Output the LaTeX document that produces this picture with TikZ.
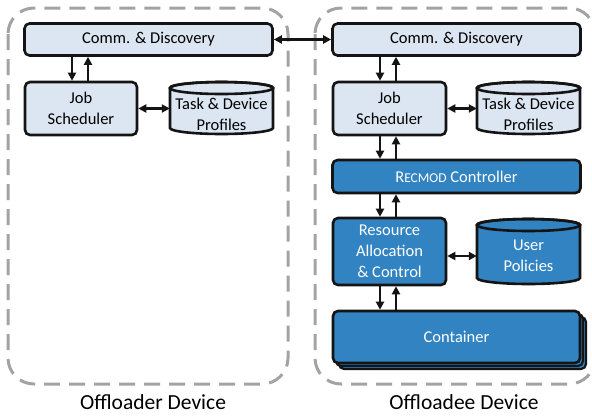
\documentclass[tikz,border=0pt]{standalone}
\usepackage{fontspec}
\setmainfont{Carlito}
\usetikzlibrary{arrows.meta}
\definecolor{lightbox}{HTML}{DCE6F2}
\definecolor{darkbox}{HTML}{3283C2}
\definecolor{edge}{HTML}{141414}
\definecolor{dashgray}{HTML}{A3A3A3}
\newcommand{\smc}[1]{{\fontsize{13.5}{16}\selectfont #1}}
\begin{document}
\begin{tikzpicture}[x=1pt,y=-1pt,
  box/.style={draw=edge, line width=2.6pt, rounded corners=5pt, inner sep=0pt, align=center, font=\fontsize{16.5}{21}\selectfont},
  lbox/.style={box, fill=lightbox, text=black},
  dbox/.style={box, fill=darkbox, text=white},
  arr/.style={line width=2.4pt, draw=edge, -{Triangle[length=8pt,width=8pt]}},
  darr/.style={line width=2.4pt, draw=edge, {Triangle[length=8pt,width=8pt]}-{Triangle[length=8pt,width=8pt]}},
  device/.style={draw=dashgray, line width=3pt, dash pattern=on 16pt off 9pt, rounded corners=26pt},
  lbl/.style={font=\fontsize{21.5}{26}\selectfont, inner sep=0pt},
  cyltext/.style={inner sep=0pt, minimum width=103pt, minimum height=52pt, align=center, font=\fontsize{16.5}{21}\selectfont}
]
\useasboundingbox (0,0) rectangle (592,418);
% device frames
\draw[device] (8,8) rectangle (288,384);
\draw[device] (315,8) rectangle (595,384);
\node[lbl] (ldev) at (153,402) {Offloader Device};
\node[lbl] (rdev) at (464,402) {Offloadee Device};

% left side
\node[lbox, minimum width=248pt, minimum height=32pt] (comm1) at (148.5,39.5) {Comm. \& Discovery};
\node[lbox, minimum width=112pt, minimum height=53pt] (job1) at (81,108.5) {Job\\Scheduler};
% right side
\node[lbox, minimum width=248pt, minimum height=32pt] (comm2) at (456.5,39.5) {Comm. \& Discovery};
\node[lbox, minimum width=113pt, minimum height=53pt] (job2) at (389.5,108.5) {Job\\Scheduler};
\node[dbox, minimum width=248pt, minimum height=33pt] (ctrl) at (456.5,176.5) {R\smc{ECMOD} Controller};
\node[dbox, minimum width=113pt, minimum height=67pt] (res) at (389.5,251.5) {Resource\\Allocation\\\& Control};
% container stack
\foreach \d in {6,3}{
  \draw[draw=edge, fill=darkbox, line width=2.2pt, rounded corners=5pt] (333+\d,311+\d) rectangle (580+\d,363+\d);
}
\node[dbox, minimum width=247pt, minimum height=52pt] (cont) at (456.5,337) {Container};

% cylinders
\newcommand{\cyl}[6]{% name, x1, x2, yt, yb, fill
  \path[draw=edge, line width=2.6pt, fill=#6]
    (#2,#4+6) -- (#2,#5-6) arc[start angle=180,end angle=0,x radius={(#3-#2)/2},y radius=6]
    -- (#3,#4+6) arc[start angle=0,end angle=-180,x radius={(#3-#2)/2},y radius=6] -- cycle;
  \draw[draw=edge, line width=2.6pt] ({(#2+#3)/2},#4+6) ellipse[x radius={(#3-#2)/2},y radius=6];
}
\cyl{p1}{170}{273}{82}{134}{lightbox}
\node[cyltext] (prof1) at (221.5,114) {Task \& Device\\Profiles};
\cyl{p2}{477}{580}{82}{134}{lightbox}
\node[cyltext] (prof2) at (528.5,114) {Task \& Device\\Profiles};
\cyl{p3}{477}{580}{219}{284}{darkbox}
\node[cyltext, text=white] (pol) at (528.5,256) {User\\Policies};

% arrows
\draw[darr] (comm1.east) -- (comm2.west);
\draw[arr] ([xshift=-9pt]job1.north |- comm1.south) -- ([xshift=-9pt]job1.north);
\draw[arr] ([xshift=7pt]job1.north) -- ([xshift=7pt]job1.north |- comm1.south);
\draw[darr] (job1.east) -- (job1.east -| prof1.west);

\draw[arr] ([xshift=-9.5pt]job2.north |- comm2.south) -- ([xshift=-9.5pt]job2.north);
\draw[arr] ([xshift=6.5pt]job2.north) -- ([xshift=6.5pt]job2.north |- comm2.south);
\draw[darr] (job2.east) -- (job2.east -| prof2.west);

\draw[arr] ([xshift=-9.5pt]job2.south) -- ([xshift=-9.5pt]job2.south |- ctrl.north);
\draw[arr] ([xshift=6.5pt]job2.south |- ctrl.north) -- ([xshift=6.5pt]job2.south);

\draw[arr] ([xshift=-9.5pt]res.north |- ctrl.south) -- ([xshift=-9.5pt]res.north);
\draw[arr] ([xshift=6.5pt]res.north) -- ([xshift=6.5pt]res.north |- ctrl.south);
\draw[darr] (res.east |- pol.center) -- (pol.west);

\draw[arr] ([xshift=-9.5pt]res.south) -- ([xshift=-9.5pt]res.south |- cont.north);
\draw[arr] ([xshift=6.5pt]res.south |- cont.north) -- ([xshift=6.5pt]res.south);
\end{tikzpicture}
\end{document}
